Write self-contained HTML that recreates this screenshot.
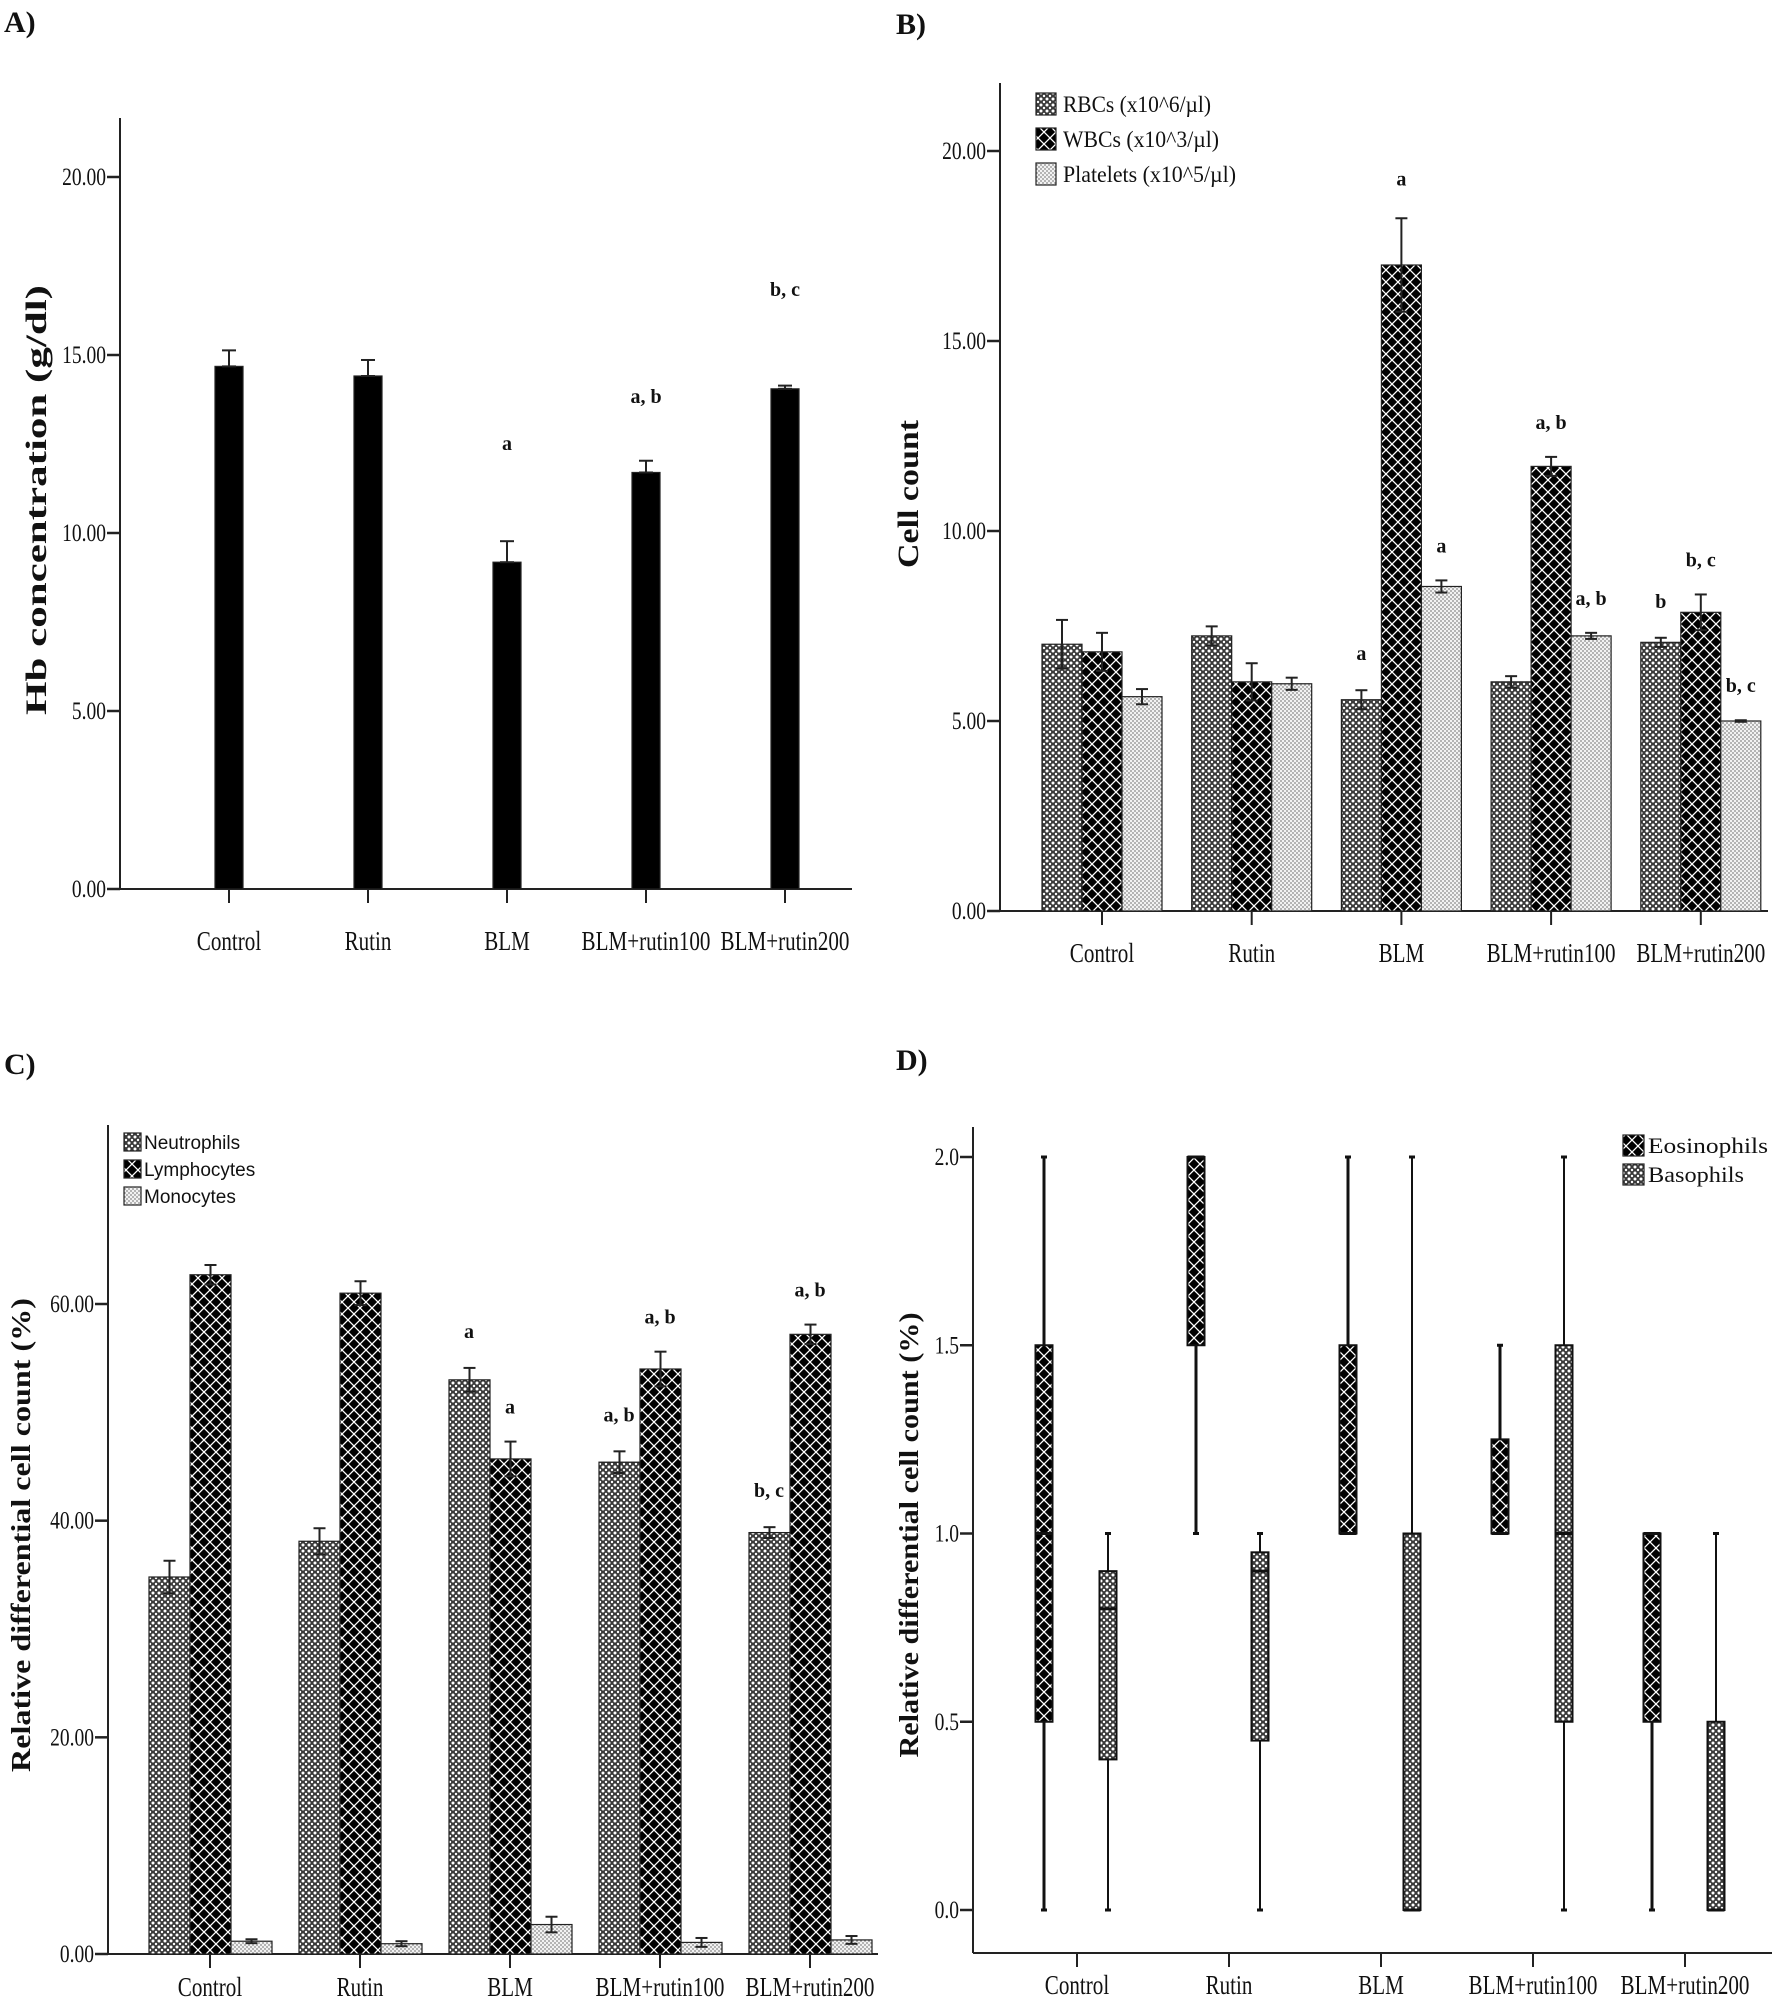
<!DOCTYPE html>
<html><head><meta charset="utf-8">
<style>
html,body{margin:0;padding:0;background:#fff;}
svg{display:block;}
text{font-family:"Liberation Serif",serif;fill:#111;}
.tick{font-size:25px;}
.cat{font-size:27px;}
.ttl{font-weight:bold;}
.sig{font-size:20px;font-weight:bold;}
</style></head>
<body>
<svg id="fig" width="1772" height="2003" viewBox="0 0 1772 2003" xmlns="http://www.w3.org/2000/svg">
<defs>
<pattern id="pDense" width="6" height="6" patternUnits="userSpaceOnUse">
<rect width="6" height="6" fill="#3a3a3a"/>
<circle cx="3" cy="3" r="1.5" fill="#fff"/><circle cx="0" cy="0" r="1.2" fill="#fff"/><circle cx="6" cy="0" r="1.2" fill="#fff"/><circle cx="0" cy="6" r="1.2" fill="#fff"/><circle cx="6" cy="6" r="1.2" fill="#fff"/>
</pattern>
<pattern id="pCross" width="12" height="12" patternUnits="userSpaceOnUse">
<rect width="12" height="12" fill="#000"/>
<path d="M0,0L12,12M12,0L0,12" stroke="#fff" stroke-width="1.3"/>
</pattern>
<pattern id="pLight" width="4" height="4" patternUnits="userSpaceOnUse">
<rect width="4" height="4" fill="#f2f2f2"/>
<circle cx="1" cy="1" r="0.9" fill="#888"/><circle cx="3" cy="3" r="0.9" fill="#888"/>
</pattern>
</defs>
<g id="root"></g>
</svg>
<script>
// ---------- Panel A data ----------
const catsA = ["Control","Rutin","BLM","BLM+rutin100","BLM+rutin200"];
const hbMean = [14.68,14.41,9.18,11.70,14.05];
const hbErr = [0.45,0.45,0.59,0.33,0.09];
const hbSig = ["","","a","a, b","b, c"];
const ticksA = ["0.00","5.00","10.00","15.00","20.00"];
const tickValsA = [0,5,10,15,20];
// ---------- Panel B data ----------
const catsB = ["Control","Rutin","BLM","BLM+rutin100","BLM+rutin200"];
const rbcMean = [7.02,7.24,5.56,6.03,7.07];
const rbcErr = [0.64,0.25,0.25,0.15,0.12];
const wbcMean = [6.82,6.03,17.0,11.70,7.86];
const wbcErr = [0.50,0.49,1.23,0.25,0.47];
const pltMean = [5.64,5.98,8.54,7.24,5.0];
const pltErr = [0.20,0.16,0.16,0.08,0.02];
const rbcSig = ["","","a","","b"];
const wbcSig = ["","","a","a, b","b, c"];
const pltSig = ["","","a","a, b","b, c"];
const ticksB = ["0.00","5.00","10.00","15.00","20.00"];
const tickValsB = [0,5,10,15,20];
const legendB = ["RBCs (x10^6/µl)","WBCs (x10^3/µl)","Platelets (x10^5/µl)"];
// ---------- Panel C data ----------
const catsC = ["Control","Rutin","BLM","BLM+rutin100","BLM+rutin200"];
const neuMean = [34.8,38.1,53.0,45.4,38.9];
const neuErr = [1.5,1.2,1.1,1.0,0.5];
const lymMean = [62.7,61.0,45.7,54.0,57.2];
const lymErr = [0.9,1.1,1.6,1.6,0.9];
const monMean = [1.18,0.95,2.72,1.07,1.30];
const monErr = [0.18,0.23,0.72,0.41,0.36];
const neuSig = ["","","a","a, b","b, c"];
const lymSig = ["","","a","a, b","a, b"];
const ticksC = ["0.00","20.00","40.00","60.00"];
const tickValsC = [0,20,40,60];
const legendC = ["Neutrophils","Lymphocytes","Monocytes"];
// ---------- Panel D data (min, q1, median, q3, max) ----------
const catsD = ["Control","Rutin","BLM","BLM+rutin100","BLM+rutin200"];
const eosMin = [0,1.0,1.0,1.0,0];
const eosQ1 = [0.5,1.5,1.0,1.0,0.5];
const eosMed = [1.0,2.0,1.0,1.0,1.0];
const eosQ3 = [1.5,2.0,1.5,1.25,1.0];
const eosMax = [2.0,2.0,2.0,1.5,1.0];
const basMin = [0,0,0,0,0];
const basQ1 = [0.4,0.45,0,0.5,0];
const basMed = [0.8,0.9,0,1.0,0];
const basQ3 = [0.9,0.95,1.0,1.5,0.5];
const basMax = [1.0,1.0,2.0,2.0,1.0];
const ticksD = ["0.0","0.5","1.0","1.5","2.0"];
const tickValsD = [0,0.5,1.0,1.5,2.0];
const legendD = ["Eosinophils","Basophils"];

const NS="http://www.w3.org/2000/svg";
const root=document.getElementById('root');
function el(tag,attrs,parent,txt){const e=document.createElementNS(NS,tag);for(const k in attrs)e.setAttribute(k,attrs[k]);if(txt!==undefined)e.textContent=txt;(parent||root).appendChild(e);return e;}
function lin(d0,d1,r0,r1){return v=>r0+(v-d0)*(r1-r0)/(d1-d0);}
function condense(t,f){const w=t.getComputedTextLength();if(w>0){t.setAttribute('textLength',(w*f).toFixed(1));t.setAttribute('lengthAdjust','spacingAndGlyphs');}}

function axes(g,ax,top,y0,right,yScale,tVals,tLabs,xs,cats,catY){
  const ya=el('line',{x1:ax,y1:top,x2:ax,y2:y0,stroke:'#222','stroke-width':2},g);
  
  
  const xa=el('line',{x1:ax,y1:y0,x2:right,y2:y0,stroke:'#222','stroke-width':2},g);
  
  
  tVals.forEach((v,i)=>{
    const y=yScale(v);
    el('line',{x1:ax-13,y1:y,x2:ax,y2:y,stroke:'#222','stroke-width':2.5},g);
    const t=el('text',{x:ax-14,y:y+8,'text-anchor':'end',class:'tick'},g,tLabs[i]);
    
    
    condense(t,0.78);
  });
  cats.forEach((c,i)=>{
    el('line',{x1:xs(i),y1:y0,x2:xs(i),y2:y0+14,stroke:'#222','stroke-width':2},g);
    const t=el('text',{x:xs(i),y:catY,'text-anchor':'middle',class:'cat'},g,c);
    
    
    condense(t,0.78);
  });
}
function bar(g,x,w,yv,y0,fill,name){
  const r=el('rect',{x:x,y:yv,width:w,height:y0-yv,fill:fill,stroke:'#222','stroke-width':1.2},g);
  
  
}
function err(g,x,ylo,yhi,cap){
  el('line',{x1:x,y1:ylo,x2:x,y2:yhi,stroke:'#222','stroke-width':2},g);
  el('line',{x1:x-cap,y1:yhi,x2:x+cap,y2:yhi,stroke:'#222','stroke-width':2},g);
  el('line',{x1:x-cap,y1:ylo,x2:x+cap,y2:ylo,stroke:'#222','stroke-width':2},g);
}
function sig(g,x,y,s){ if(!s)return; const t=el('text',{x:x,y:y,'text-anchor':'middle',class:'sig'},g,s);
  
  }
function ylabel(g,x,y,s,size,len){const t=el('text',{x:0,y:0,transform:`translate(${x},${y}) rotate(-90)`,'text-anchor':'middle',class:'ttl','font-size':size,textLength:len,lengthAdjust:'spacingAndGlyphs'},g,s);
  
  }
function plabel(g,x,y,s){const t=el('text',{x:x,y:y,class:'ttl','font-size':30},g,s);
  
  }

// ===== Panel A =====
(function(){
  const g=el('g',{});
  
  
  const y=lin(0,20,889,177), xs=i=>229+i*139;
  plabel(g,4,32,'A)');
  axes(g,120,118,889,852,y,tickValsA,ticksA,xs,catsA,950);
  catsA.forEach((c,i)=>{
    bar(g,xs(i)-14,28,y(hbMean[i]),889,'#000','bar-hb-'+i);
    err(g,xs(i),y(hbMean[i]),y(hbMean[i]+hbErr[i]),7);
  });
  sig(g,xs(2),450,hbSig[2]); sig(g,xs(3),403,hbSig[3]); sig(g,xs(4),296,hbSig[4]);
  ylabel(g,46,500,'Hb concentration (g/dl)',30,430);
})();

// ===== Panel B =====
(function(){
  const g=el('g',{});
  
  
  const y0=911, y=lin(0,20,y0,151), xs=i=>1102+i*149.7;
  plabel(g,896,34,'B)');
  axes(g,1000,83,y0,1768,y,tickValsB,ticksB,xs,catsB,962);
  const series=[[rbcMean,rbcErr,'url(#pDense)','rbc'],[wbcMean,wbcErr,'url(#pCross)','wbc'],[pltMean,pltErr,'url(#pLight)','platelets']];
  catsB.forEach((c,i)=>{
    series.forEach((s,k)=>{
      const x=xs(i)-60+k*40;
      bar(g,x,40,y(s[0][i]),y0,s[2],'bar-'+s[3]+'-'+i);
      err(g,x+20,y(s[0][i]-s[1][i]),y(s[0][i]+s[1][i]),6);
    });
    sig(g,xs(i)-40,y(rbcMean[i]+rbcErr[i])-30,rbcSig[i]);
    sig(g,xs(i),y(wbcMean[i]+wbcErr[i])-28-(i==2?5:0),wbcSig[i]);
    sig(g,xs(i)+40,y(pltMean[i]+pltErr[i])-28,pltSig[i]);
  });
  const fills=['url(#pDense)','url(#pCross)','url(#pLight)'];
  legendB.forEach((s,k)=>{
    const ly=93+k*35;
    const r=el('rect',{x:1036,y:ly,width:20,height:22,fill:fills[k],stroke:'#222','stroke-width':1.2},g);
    
    
    const t=el('text',{x:1063,y:ly+19,'font-size':23,textLength:[148,156,173][k],lengthAdjust:'spacingAndGlyphs'},g,s);
    
    
  });
  ylabel(g,918,494,'Cell count',30,148);
})();

// ===== Panel C =====
(function(){
  const g=el('g',{});
  
  
  const y0=1954, y=lin(0,60,y0,1304), xs=i=>210+i*150;
  plabel(g,4,1074,'C)');
  axes(g,108,1125,y0,878,y,tickValsC,ticksC,xs,catsC,1996);
  const series=[[neuMean,neuErr,'url(#pDense)','neutrophils'],[lymMean,lymErr,'url(#pCross)','lymphocytes'],[monMean,monErr,'url(#pLight)','monocytes']];
  catsC.forEach((c,i)=>{
    series.forEach((s,k)=>{
      const x=xs(i)-61+k*41;
      bar(g,x,41,y(s[0][i]),y0,s[2],'bar-'+s[3]+'-'+i);
      err(g,x+20.5,y(s[0][i]-s[1][i]),y(s[0][i]+s[1][i]),6);
    });
    sig(g,xs(i)-41,y(neuMean[i]+neuErr[i])-30,neuSig[i]);
    sig(g,xs(i),y(lymMean[i]+lymErr[i])-28,lymSig[i]);
  });
  const fills=['url(#pDense)','url(#pCross)','url(#pLight)'];
  legendC.forEach((s,k)=>{
    const ly=1133+k*27;
    const r=el('rect',{x:124,y:ly,width:17,height:18,fill:fills[k],stroke:'#222','stroke-width':1.2},g);
    
    
    const t=el('text',{x:144,y:ly+16,'font-size':19,style:'font-family:"Liberation Sans",sans-serif'},g,s);
    
    
  });
  ylabel(g,30,1535,'Relative differential cell count (%)',27,474);
})();

// ===== Panel D =====
(function(){
  const g=el('g',{});
  
  
  const y=lin(0,2,1910,1157), xs=i=>1077+i*152;
  plabel(g,896,1070,'D)');
  axes(g,973,1127,1953,1772,y,tickValsD,ticksD,xs,catsD,1994);
  const series=[[eosMin,eosQ1,eosMed,eosQ3,eosMax,'url(#pCross)',-33,3,'eosinophils'],[basMin,basQ1,basMed,basQ3,basMax,'url(#pDense)',31,2,'basophils']];
  catsD.forEach((c,i)=>{
    series.forEach(s=>{
      const cx=xs(i)+s[6];
      el('line',{x1:cx,y1:y(s[0][i]),x2:cx,y2:y(s[4][i]),stroke:'#111','stroke-width':s[7]},g);
      el('line',{x1:cx-3,y1:y(s[0][i]),x2:cx+3,y2:y(s[0][i]),stroke:'#111','stroke-width':3},g);
      el('line',{x1:cx-3,y1:y(s[4][i]),x2:cx+3,y2:y(s[4][i]),stroke:'#111','stroke-width':3},g);
      const top=y(s[3][i]), bot=y(s[1][i]);
      const r=el('rect',{x:cx-8.5,y:top,width:17,height:Math.max(bot-top,0),fill:s[5],stroke:'#111','stroke-width':2},g);
      
      
      el('line',{x1:cx-8.5,y1:y(s[2][i]),x2:cx+8.5,y2:y(s[2][i]),stroke:'#111','stroke-width':3},g);
    });
  });
  const fills=['url(#pCross)','url(#pDense)'];
  legendD.forEach((s,k)=>{
    const ly=1135+k*29;
    const r=el('rect',{x:1623,y:ly,width:21,height:21,fill:fills[k],stroke:'#222','stroke-width':1.2},g);
    
    
    const t=el('text',{x:1648,y:ly+18,'font-size':22,textLength:[120,123][k]*(k?0.78:1),lengthAdjust:'spacingAndGlyphs'},g,s);
    
    
  });
  ylabel(g,918,1535,'Relative differential cell count (%)',27,445);
})();
</script>
</body></html>
